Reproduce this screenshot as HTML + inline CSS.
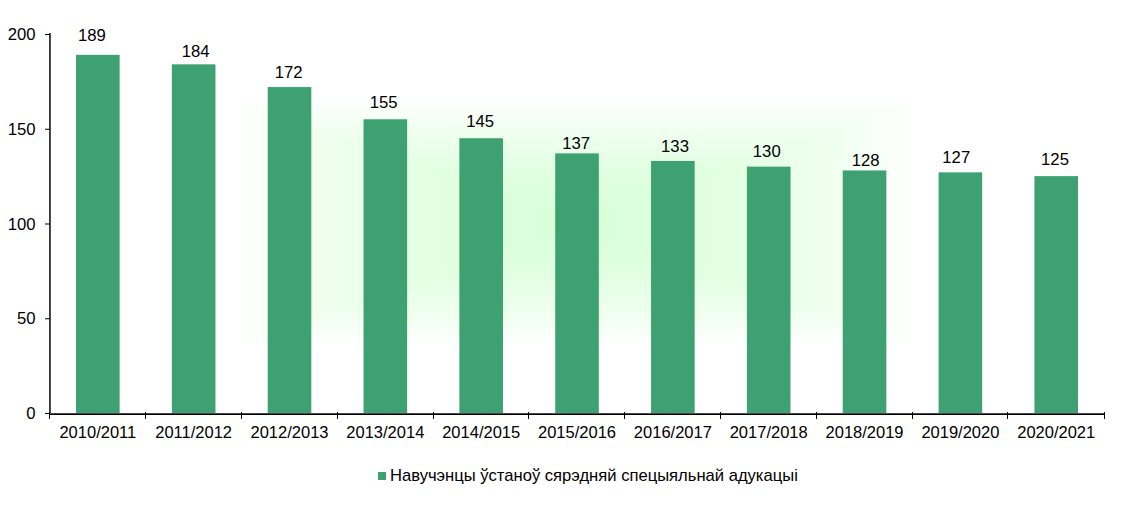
<!DOCTYPE html><html><head><meta charset="utf-8"><style>html,body{margin:0;padding:0;background:#fff}svg{display:block}text{font-family:"Liberation Sans",sans-serif;font-size:16.7px;fill:#000}</style></head><body>
<svg width="1122" height="505" viewBox="0 0 1122 505">
<defs>
<linearGradient id="gL" x1="239" y1="0" x2="576.0" y2="0" gradientUnits="userSpaceOnUse"><stop offset="0.0" stop-color="rgb(253,255,253)"/><stop offset="0.1" stop-color="rgb(248,255,248)"/><stop offset="0.2" stop-color="rgb(242,255,242)"/><stop offset="0.3" stop-color="rgb(237,255,237)"/><stop offset="0.4" stop-color="rgb(233,255,233)"/><stop offset="0.5" stop-color="rgb(228,255,228)"/><stop offset="0.6" stop-color="rgb(225,255,225)"/><stop offset="0.7" stop-color="rgb(221,255,221)"/><stop offset="0.8" stop-color="rgb(219,255,219)"/><stop offset="0.9" stop-color="rgb(217,255,217)"/><stop offset="1.0" stop-color="rgb(216,255,216)"/></linearGradient>
<linearGradient id="gR" x1="913" y1="0" x2="576.0" y2="0" gradientUnits="userSpaceOnUse"><stop offset="0.0" stop-color="rgb(253,255,253)"/><stop offset="0.1" stop-color="rgb(248,255,248)"/><stop offset="0.2" stop-color="rgb(242,255,242)"/><stop offset="0.3" stop-color="rgb(237,255,237)"/><stop offset="0.4" stop-color="rgb(233,255,233)"/><stop offset="0.5" stop-color="rgb(228,255,228)"/><stop offset="0.6" stop-color="rgb(225,255,225)"/><stop offset="0.7" stop-color="rgb(221,255,221)"/><stop offset="0.8" stop-color="rgb(219,255,219)"/><stop offset="0.9" stop-color="rgb(217,255,217)"/><stop offset="1.0" stop-color="rgb(216,255,216)"/></linearGradient>
<linearGradient id="gT" x1="0" y1="102" x2="0" y2="222.5" gradientUnits="userSpaceOnUse"><stop offset="0.0" stop-color="rgb(253,255,253)"/><stop offset="0.1" stop-color="rgb(248,255,248)"/><stop offset="0.2" stop-color="rgb(242,255,242)"/><stop offset="0.3" stop-color="rgb(237,255,237)"/><stop offset="0.4" stop-color="rgb(233,255,233)"/><stop offset="0.5" stop-color="rgb(228,255,228)"/><stop offset="0.6" stop-color="rgb(225,255,225)"/><stop offset="0.7" stop-color="rgb(221,255,221)"/><stop offset="0.8" stop-color="rgb(219,255,219)"/><stop offset="0.9" stop-color="rgb(217,255,217)"/><stop offset="1.0" stop-color="rgb(216,255,216)"/></linearGradient>
<linearGradient id="gB" x1="0" y1="343" x2="0" y2="222.5" gradientUnits="userSpaceOnUse"><stop offset="0.0" stop-color="rgb(253,255,253)"/><stop offset="0.1" stop-color="rgb(248,255,248)"/><stop offset="0.2" stop-color="rgb(242,255,242)"/><stop offset="0.3" stop-color="rgb(237,255,237)"/><stop offset="0.4" stop-color="rgb(233,255,233)"/><stop offset="0.5" stop-color="rgb(228,255,228)"/><stop offset="0.6" stop-color="rgb(225,255,225)"/><stop offset="0.7" stop-color="rgb(221,255,221)"/><stop offset="0.8" stop-color="rgb(219,255,219)"/><stop offset="0.9" stop-color="rgb(217,255,217)"/><stop offset="1.0" stop-color="rgb(216,255,216)"/></linearGradient>
</defs>
<rect width="1122" height="505" fill="#fff"/>
<rect x="239" y="102" width="337.5" height="241" fill="url(#gL)"/>
<rect x="576.0" y="102" width="337.0" height="241" fill="url(#gR)"/>
<polygon points="239,102 576.0,222.5 913,102" fill="url(#gT)"/>
<polygon points="239,343 576.0,222.5 913,343" fill="url(#gB)"/>
<rect x="76.02" y="54.84" width="43.6" height="358.16" fill="#3EA172"/>
<text x="91.85" y="41" text-anchor="middle">189</text>
<rect x="171.86" y="64.32" width="43.6" height="348.68" fill="#3EA172"/>
<text x="195.60" y="57" text-anchor="middle">184</text>
<rect x="267.70" y="87.06" width="43.6" height="325.94" fill="#3EA172"/>
<text x="288.55" y="78" text-anchor="middle">172</text>
<rect x="363.54" y="119.27" width="43.6" height="293.73" fill="#3EA172"/>
<text x="383.65" y="108" text-anchor="middle">155</text>
<rect x="459.38" y="138.23" width="43.6" height="274.77" fill="#3EA172"/>
<text x="480.10" y="127" text-anchor="middle">145</text>
<rect x="555.22" y="153.38" width="43.6" height="259.62" fill="#3EA172"/>
<text x="576.05" y="149" text-anchor="middle">137</text>
<rect x="651.06" y="160.97" width="43.6" height="252.03" fill="#3EA172"/>
<text x="675.00" y="152" text-anchor="middle">133</text>
<rect x="746.90" y="166.65" width="43.6" height="246.35" fill="#3EA172"/>
<text x="766.75" y="157" text-anchor="middle">130</text>
<rect x="842.74" y="170.44" width="43.6" height="242.56" fill="#3EA172"/>
<text x="865.65" y="166" text-anchor="middle">128</text>
<rect x="938.58" y="172.34" width="43.6" height="240.66" fill="#3EA172"/>
<text x="956.25" y="163" text-anchor="middle">127</text>
<rect x="1034.42" y="176.12" width="43.6" height="236.88" fill="#3EA172"/>
<text x="1055.00" y="165" text-anchor="middle">125</text>
<rect x="49" y="33" width="1" height="382.0" fill="#383838"/>
<rect x="50" y="33" width="1" height="382.0" fill="#505050"/>
<rect x="49" y="413.0" width="1056" height="1" fill="#4a4a4a"/>
<rect x="49" y="414.0" width="1056" height="1" fill="#000"/>
<rect x="45" y="413.00" width="5" height="1" fill="#000"/>
<text x="35.5" y="419.00" text-anchor="end">0</text>
<rect x="45" y="318.25" width="5" height="1" fill="#000"/>
<text x="35.5" y="324.25" text-anchor="end">50</text>
<rect x="45" y="223.50" width="5" height="1" fill="#000"/>
<text x="35.5" y="229.50" text-anchor="end">100</text>
<rect x="45" y="128.75" width="5" height="1" fill="#000"/>
<text x="35.5" y="134.75" text-anchor="end">150</text>
<rect x="45" y="34.00" width="5" height="1" fill="#000"/>
<text x="35.5" y="40.00" text-anchor="end">200</text>
<rect x="49" y="412.0" width="1" height="7" fill="#000"/>
<rect x="145" y="412.0" width="1" height="7" fill="#000"/>
<rect x="241" y="412.0" width="1" height="7" fill="#000"/>
<rect x="337" y="412.0" width="1" height="7" fill="#000"/>
<rect x="433" y="412.0" width="1" height="7" fill="#000"/>
<rect x="528" y="412.0" width="1" height="7" fill="#000"/>
<rect x="624" y="412.0" width="1" height="7" fill="#000"/>
<rect x="720" y="412.0" width="1" height="7" fill="#000"/>
<rect x="816" y="412.0" width="1" height="7" fill="#000"/>
<rect x="912" y="412.0" width="1" height="7" fill="#000"/>
<rect x="1007" y="412.0" width="1" height="7" fill="#000"/>
<rect x="1104" y="412.0" width="1" height="7" fill="#000"/>
<text x="97.82" y="438" text-anchor="middle" style="font-size:16.5px">2010/2011</text>
<text x="193.66" y="438" text-anchor="middle" style="font-size:16.5px">2011/2012</text>
<text x="289.50" y="438" text-anchor="middle" style="font-size:16.5px">2012/2013</text>
<text x="385.34" y="438" text-anchor="middle" style="font-size:16.5px">2013/2014</text>
<text x="481.18" y="438" text-anchor="middle" style="font-size:16.5px">2014/2015</text>
<text x="577.02" y="438" text-anchor="middle" style="font-size:16.5px">2015/2016</text>
<text x="672.86" y="438" text-anchor="middle" style="font-size:16.5px">2016/2017</text>
<text x="768.70" y="438" text-anchor="middle" style="font-size:16.5px">2017/2018</text>
<text x="864.54" y="438" text-anchor="middle" style="font-size:16.5px">2018/2019</text>
<text x="960.38" y="438" text-anchor="middle" style="font-size:16.5px">2019/2020</text>
<text x="1056.22" y="438" text-anchor="middle" style="font-size:16.5px">2020/2021</text>
<rect x="378" y="472" width="8" height="8" fill="#3EA172"/>
<text x="390" y="481" style="font-size:16.6px">Навучэнцы ўстаноў сярэдняй спецыяльнай адукацыі</text>
</svg></body></html>
